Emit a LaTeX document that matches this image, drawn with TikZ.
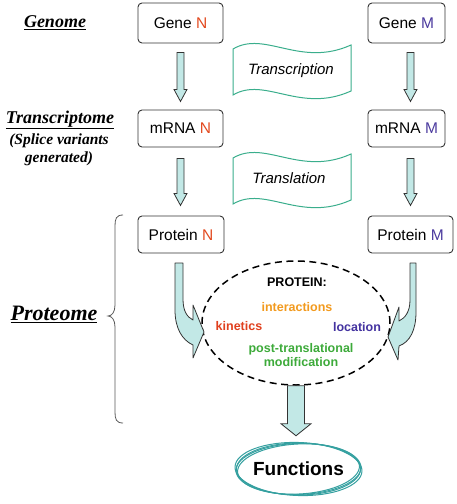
\documentclass[tikz,border=0pt]{standalone}
\usepackage{fontspec}
\setmainfont{Liberation Sans}
\newfontfamily\tnr{Liberation Serif}
\usetikzlibrary{shapes.geometric,calc}
\definecolor{nred}{HTML}{E2481E}
\definecolor{mblue}{HTML}{4B3A9E}
\definecolor{iorange}{HTML}{F29A1E}
\definecolor{kred}{HTML}{E0401E}
\definecolor{lblue}{HTML}{4433A0}
\definecolor{pgreen}{HTML}{3DAA3A}
\definecolor{bteal}{HTML}{3AAE8C}
\definecolor{afill}{HTML}{C2E8E6}
\definecolor{fteal}{HTML}{35A0A0}
\definecolor{edge}{HTML}{333333}
\begin{document}
\begin{tikzpicture}[x=1pt,y=-1pt,
  box/.style={draw=edge, line width=0.9pt, rounded corners=4pt, inner sep=0pt,
    font=\fontsize{15.5}{18}\selectfont},
  banner/.style={draw=bteal, line width=1pt, fill=white},
  bantext/.style={font=\fontsize{15}{18}\selectfont\itshape, inner sep=0pt},
  blockarrow/.style={draw=edge, fill=afill, line width=0.8pt, line join=miter},
  pics/blockdown/.style n args={4}{code={
    \draw[blockarrow] (-#1,0) -- (#1,0) -- (#1,{#3-#4}) -- (#2,{#3-#4}) -- (0,#3)
      -- (-#2,{#3-#4}) -- (-#1,{#3-#4}) -- cycle;}},
  curvarr/.style={draw=edge, fill=afill, line width=0.8pt, line join=round},
  ptext/.style={font=\fontsize{12.5}{14}\selectfont\bfseries, inner sep=0pt},
  lefttitle/.style={font=\tnr\bfseries\itshape, inner sep=0pt},
  funcline/.style={draw=fteal, line width=1pt}
]
\useasboundingbox (0,0) rectangle (457,504);

% left labels
\node[lefttitle, font=\tnr\bfseries\itshape\fontsize{18}{20}\selectfont] (lgen) at (55,23) {\underline{Genome}};
\node[lefttitle, font=\tnr\bfseries\itshape\fontsize{18}{20}\selectfont] (ltr) at (60,120) {\underline{Transcriptome}};
\node[lefttitle, font=\tnr\bfseries\itshape\fontsize{15.5}{18.5}\selectfont, align=center] (lspl) at (59,150) {(Splice variants\\generated)};
\node[lefttitle, font=\tnr\bfseries\itshape\fontsize{22}{24}\selectfont] (lpro) at (54,314) {\underline{Proteome}};

% brace
\draw[draw=black!65, line width=0.8pt] (123,215) .. controls (116,215) and (115,219) .. (115,226)
  -- (115,305) .. controls (115,312) and (112,316) .. (108,316)
  .. controls (112,316) and (115,320) .. (115,327)
  -- (115,412) .. controls (115,419) and (116,423) .. (123,423);

% boxes
\node[box, minimum width=85pt, minimum height=40pt] (geneN) at (180.5,23) {Gene \textcolor{nred}{N}};
\node[box, minimum width=85pt, minimum height=37pt] (mrnaN) at (180.5,128.5) {mRNA \textcolor{nred}{N}};
\node[box, minimum width=86pt, minimum height=37pt] (protN) at (181,234.5) {Protein \textcolor{nred}{N}};
\node[box, minimum width=77pt, minimum height=40pt] (geneM) at (406.5,23) {Gene \textcolor{mblue}{M}};
\node[box, minimum width=77pt, minimum height=37pt] (mrnaM) at (406.5,128.5) {mRNA \textcolor{mblue}{M}};
\node[box, minimum width=85pt, minimum height=37pt] (protM) at (410.5,234.5) {Protein \textcolor{mblue}{M}};

% small block arrows
\pic at ($(geneN.south)+(0,9)$) {blockdown={3.5}{6.5}{49}{12}};
\pic at ($(mrnaN.south)+(0,11)$) {blockdown={3.5}{6.5}{47}{12}};
\pic at ($(geneM.south)+(4,9)$) {blockdown={3.5}{6.5}{49}{12}};
\pic at ($(mrnaM.south)+(4,11)$) {blockdown={3.5}{6.5}{47}{12}};

% banners
\draw[banner] (233,49) .. controls (265,30) and (300,68) .. (351,45) -- (351,91)
  .. controls (300,114) and (265,76) .. (233,95) -- cycle;
\node[bantext] (tc) at (291,71) {Transcription};
\draw[banner] (233,158) .. controls (265,139) and (300,177) .. (351,154) -- (351,200)
  .. controls (300,223) and (265,185) .. (233,204) -- cycle;
\node[bantext] (tl) at (289,178) {Translation};

% dashed ellipse
\node[ellipse, draw=black, dashed, dash pattern=on 7pt off 4.5pt, line width=1.5pt,
  minimum width=188pt, minimum height=124pt, inner sep=0pt] (prot) at (296,323) {};
\node[ptext] (pt) at (297,282) {PROTEIN:};
\node[ptext, text=iorange] (pi) at (297,307) {interactions};
\node[ptext, text=kred] (pk) at (239,326) {kinetics};
\node[ptext, text=lblue] (pl) at (357,327) {location};
\node[ptext, text=pgreen, align=center] (pp) at (301,355) {post-translational\\modification};

% curved arrows
\draw[curvarr] (175,263) -- (183,263) -- (183,299)
  .. controls (183,311) and (187,317) .. (193,320) -- (193,305) -- (204,332) -- (193,358) -- (193,345)
  .. controls (182,340) and (175,328) .. (175,310) -- cycle;
\draw[curvarr] (416,263) -- (410,263) -- (410,300)
  .. controls (410,312) and (405,318) .. (399,321) -- (399,307) -- (388,337) -- (398,360) -- (399,346)
  .. controls (410,342) and (416,330) .. (416,312) -- cycle;

% functions
\node[font=\fontsize{19}{22}\selectfont\bfseries, inner sep=0pt] (func) at (298.5,469) {Functions};
\foreach \r/\a/\b in {0/62/26, 3/61/25, -2/63.5/26.5, 1.5/62.5/25.5}
  \draw[funcline, rotate around={\r:(func.center)}] (func.center) ellipse [x radius=\a, y radius=\b];

% big arrow
\pic at (prot.south) {blockdown={8.5}{15}{50}{12}};
\end{tikzpicture}
\end{document}
